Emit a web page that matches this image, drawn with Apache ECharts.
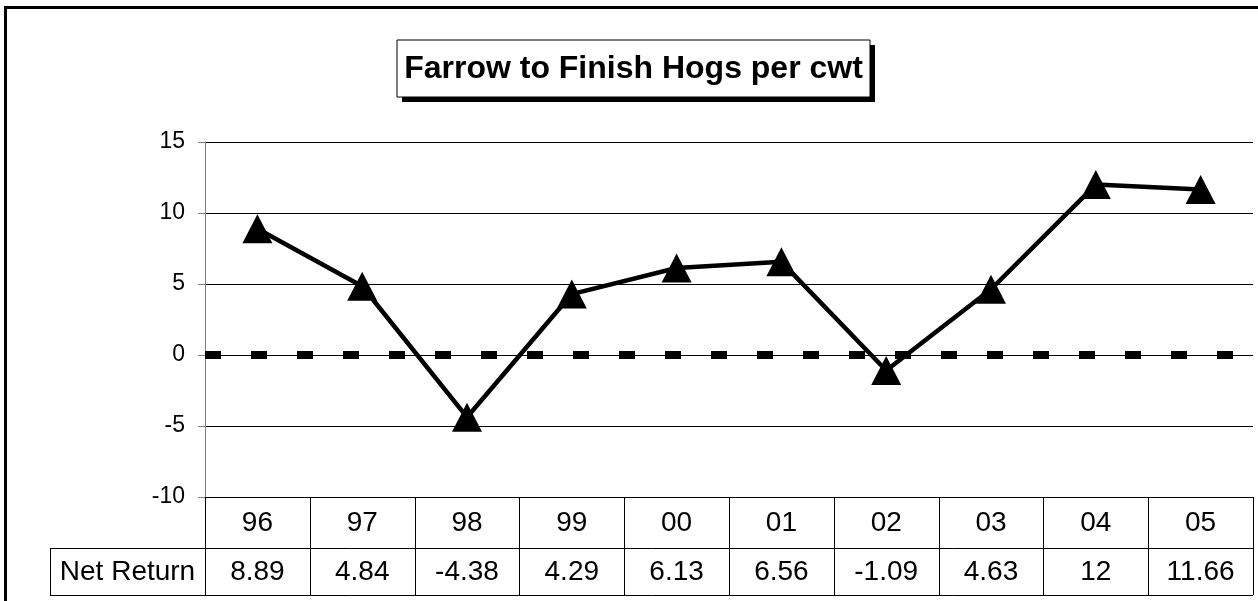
<!DOCTYPE html>
<html><head><meta charset="utf-8">
<script src="https://cdn.jsdelivr.net/npm/echarts@6/dist/echarts.min.js"></script>
<style>html,body{margin:0;padding:0;background:#fff}#c{width:1258px;height:601px}</style>
</head><body><div id="c"></div>
<script>
const titleText = 'Farrow to Finish Hogs per cwt';
const categories = ['96','97','98','99','00','01','02','03','04','05'];
const seriesName = 'Net Return';
const netReturn = [8.89, 4.84, -4.38, 4.29, 6.13, 6.56, -1.09, 4.63, 12, 11.66];
const yTicks = [-10, -5, 0, 5, 10, 15];

const FONT = 'Liberation Sans, Arial, Helvetica, sans-serif';
const chart = echarts.init(document.getElementById('c'), null, {renderer:'canvas'});
const option = {
  animation: false,
  backgroundColor: '#fff',
  grid: {left: 205, right: 5, top: 142, bottom: 104, containLabel: false},
  xAxis: {
    type: 'category', data: categories, boundaryGap: true,
    axisLine: {show: false}, axisTick: {show: false}, axisLabel: {show: false},
    splitLine: {show: false}
  },
  yAxis: {
    type: 'value', min: yTicks[0], max: yTicks[yTicks.length-1], interval: 5,
    axisLine: {show: true, lineStyle: {color: '#808080', width: 1}},
    axisTick: {show: true, length: 7, lineStyle: {color: '#808080'}},
    axisLabel: {color: '#000', fontSize: 23, fontFamily: FONT, margin: 20},
    splitLine: {show: true, lineStyle: {color: '#000', width: 1}}
  },
  series: [{
    name: seriesName, type: 'line', data: netReturn,
    symbol: 'triangle', symbolSize: [30, 29],
    lineStyle: {color: '#000', width: 4.5},
    itemStyle: {color: '#000'},
    z: 5,
    markLine: {
      silent: true, symbol: 'none', label: {show: false},
      lineStyle: {color: '#000', width: 8, type: [16, 30]},
      data: [{yAxis: 0}], z: 3
    }
  }]
};
chart.setOption(option);

function buildGraphic() {
  const g = [];
  g.push({type: 'rect', shape: {x: 5.5, y: 7.5, width: 1270, height: 620}, style: {fill: 'none', stroke: '#000', lineWidth: 3}, z: 1});
  const tb = {x: 397, y: 40, w: 473, h: 57};
  g.push({type: 'rect', shape: {x: tb.x + 5, y: tb.y + 5, width: tb.w, height: tb.h}, style: {fill: '#000'}, z: 10});
  g.push({type: 'rect', shape: {x: tb.x, y: tb.y, width: tb.w, height: tb.h}, style: {fill: '#fff', stroke: '#000', lineWidth: 1}, z: 11});
  g.push({type: 'text', x: tb.x + tb.w / 2, y: tb.y + tb.h / 2 + 1, style: {text: titleText, font: 'bold 32px ' + FONT, fill: '#000', align: 'center', verticalAlign: 'middle'}, z: 12});

  const yBottom = chart.convertToPixel({yAxisIndex: 0}, yTicks[0]);
  const row1Top = yBottom, row1Bot = yBottom + 51, row2Bot = yBottom + 98;
  const centers = categories.map((c, i) => chart.convertToPixel({xAxisIndex: 0}, i));
  const half = (centers[1] - centers[0]) / 2;
  const leftX = centers[0] - half, rightX = centers[centers.length - 1] + half;
  const labelLeft = 50;
  const ls = {stroke: '#000', lineWidth: 1};
  const line = (x1, y1, x2, y2) => g.push({type: 'line', shape: {x1, y1, x2, y2}, style: ls, z: 4});
  line(leftX, row1Top + 0.5, rightX, row1Top + 0.5);
  line(labelLeft, row1Bot + 0.5, rightX, row1Bot + 0.5);
  line(labelLeft, row2Bot + 0.5, rightX, row2Bot + 0.5);
  line(labelLeft + 0.5, row1Bot, labelLeft + 0.5, row2Bot);
  for (let i = 0; i <= categories.length; i++) {
    const x = Math.round(leftX + i * 2 * half) + 0.5;
    line(x, row1Top, x, row2Bot);
  }
  categories.forEach((c, i) => {
    g.push({type: 'text', x: centers[i], y: (row1Top + row1Bot) / 2 + 1, style: {text: c, font: '28px ' + FONT, fill: '#000', align: 'center', verticalAlign: 'middle'}, z: 6});
    g.push({type: 'text', x: centers[i], y: (row1Bot + row2Bot) / 2 + 1, style: {text: String(netReturn[i]), font: '28px ' + FONT, fill: '#000', align: 'center', verticalAlign: 'middle'}, z: 6});
  });
  g.push({type: 'text', x: (labelLeft + leftX) / 2, y: (row1Bot + row2Bot) / 2 + 1, style: {text: seriesName, font: '28px ' + FONT, fill: '#000', align: 'center', verticalAlign: 'middle'}, z: 6});
  chart.setOption({graphic: g});
}
buildGraphic();
</script></body></html>
